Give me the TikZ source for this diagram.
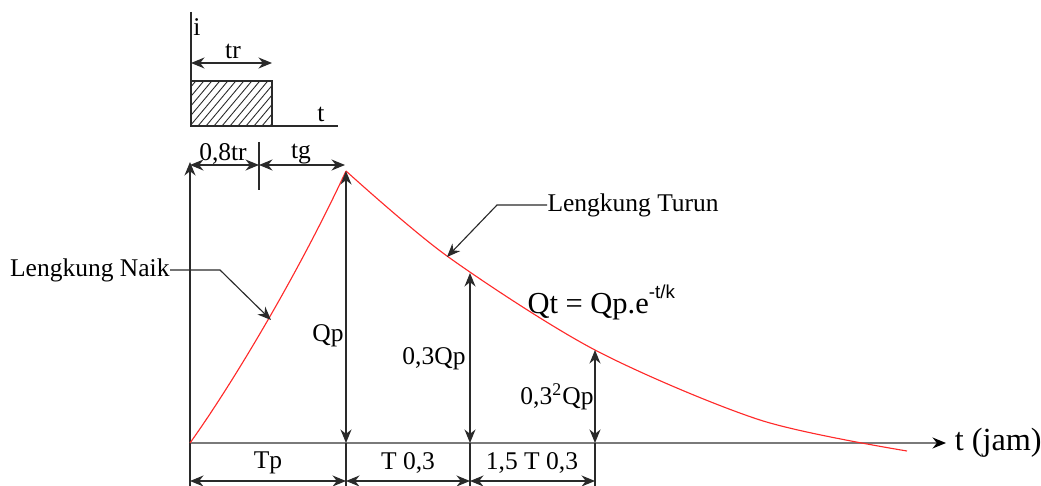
\documentclass[tikz,border=0pt]{standalone}
\usepackage{fontspec}
\setmainfont{Liberation Serif}
\newfontfamily\arialfont{Liberation Sans}
\definecolor{HGred}{HTML}{FF2A2A}
\definecolor{HGgray}{HTML}{7A7A7A}
\definecolor{HGline}{HTML}{2A2A2A}
\usetikzlibrary{arrows.meta}

\begin{document}
\begin{tikzpicture}[x=0.4pt, y=-0.4pt, font=\fontsize{10.2}{12}\selectfont,
   dim/.style={{Stealth[length=5.4pt, width=4.4pt]}-{Stealth[length=5.4pt, width=4.4pt]}, HGline, line width=0.5pt},
   lead/.style={-{Stealth[length=5.4pt, width=4.4pt]}, HGline, line width=0.45pt},
   thin line/.style={HGline, line width=0.5pt}]
   \useasboundingbox (0,0) rectangle (1041,486);

   % hyetograph (top)
   \coordinate (iO) at (191,126);
   \draw[thin line] (191,12) -- (iO) -- (338,126);
   \node (i) at (197,27) {i};
   \node (tsmall) at (321,114) {t};
   \begin{scope}
      \clip (191,81) rectangle (272,126);
      \foreach \k in {0,...,16}
         \draw[HGline, line width=0.35pt] (150+\k*8,126) -- ++(42,-50);
   \end{scope}
   \draw[thin line] (191,81) rectangle (272,126);
   \coordinate (trL) at (191,63);
   \coordinate (trR) at (272,63);
   \draw[dim] (trL) -- (trR);
   \node (tr) at (233,51) {tr};

   % axes
   \coordinate (O) at (190,443);
   \node[anchor=west, font=\fontsize{12.9}{14}\selectfont] (tjam) at (946,443) {t (jam)};
   \draw[HGgray, line width=0.6pt, -{Stealth[length=5.4pt, width=4.4pt, black]}] (O) -- (tjam.west);
   \draw[thin line, -{Stealth[length=5.4pt, width=4.4pt]}] (190,486) -- (190,162);

   % hydrograph
   \coordinate (peak) at (346,171);
   \coordinate (c1) at (470,273);
   \coordinate (c2) at (595,350);
   \draw[HGred, line width=0.45pt] (O) .. controls (235,380) and (300,270) .. (peak);
   \draw[HGred, line width=0.45pt] plot[smooth] coordinates {(peak) (447,256) (c2)
      (760,420) (907,451)};

   % time to peak
   \draw[thin line] (259,142) -- (259,190);
   \draw[dim] (190,165) -- (259,165);
   \draw[dim] (259,165) -- (345,165);
   \node (lag08) at (223,154) {0,8tr};
   \node (tg) at (301,154) {tg};

   % ordinates
   \draw[dim] (peak) -- (346,443);
   \draw[dim] (c1) -- (470,443);
   \draw[dim] (c2) -- (595,443);
   \foreach \x in {346,470,595}
      \draw[thin line] (\x,443) -- (\x,486);
   \node (qp) at (328,336) {Qp};
   \node (qp03) at (434,359) {0,3Qp};
   \node (qp09) at (557,397) {0,3\textsuperscript{2}Qp};

   % base dimensions
   \draw[dim] (190,481) -- (346,481);
   \draw[dim] (346,481) -- (470,481);
   \draw[dim] (470,481) -- (595,481);
   \node (tp) at (268,463) {Tp};
   \node (t03) at (408,463) {T 0,3};
   \node (t15) at (532,463) {1,5 T 0,3};

   % labels
   \node[anchor=east, inner sep=0pt] (naik) at (170,270) {Lengkung Naik};
   \coordinate (naikpt) at (271,320);
   \draw[lead] (naik.east) -- (220,270) -- (naikpt);
   \node[anchor=west, inner sep=0pt] (turun) at (547,205) {Lengkung Turun};
   \coordinate (turunpt) at (447,257);
   \draw[lead] (turun.west) -- (497,205) -- (turunpt);
   \node[anchor=base west, inner sep=0pt, font=\fontsize{12.2}{14}\selectfont] (rumus) at (527,313)
      {Qt = Qp.e\raisebox{1.05ex}{\arialfont\fontsize{7.5}{8}\selectfont -t/k}};
\end{tikzpicture}
\end{document}
